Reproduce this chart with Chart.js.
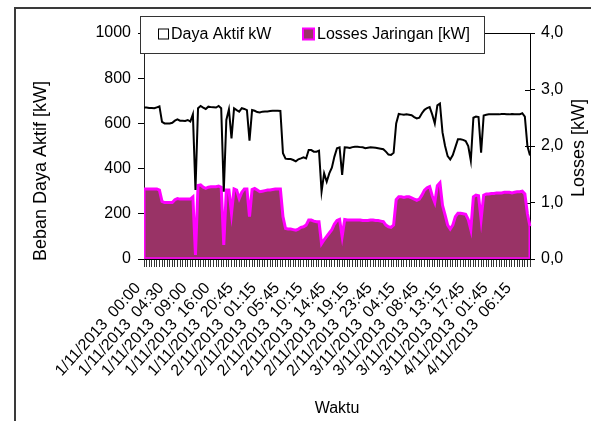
<!DOCTYPE html>
<html>
<head>
<meta charset="utf-8">
<script src="https://cdn.jsdelivr.net/npm/chart.js@4.4.1/dist/chart.umd.min.js"></script>
<style>
  html, body { margin: 0; padding: 0; background: #fff; }
  #wrap { position: relative; width: 591px; height: 421px; overflow: hidden; }
  #frame { position: absolute; left: 14px; top: 7px; width: 620px; height: 520px;
           border-left: 2px solid #3a3a3a; border-top: 2px solid #3a3a3a; }
  canvas { position: absolute; left: 0; top: 0; }
</style>
</head>
<body>
<div id="wrap"><div id="frame"></div><canvas id="c" width="591" height="421"></canvas></div>
<script>
// Time labels shown on the x axis (one every 9 samples)
const tickLabels = [
  '1/11/2013  00:00', '1/11/2013  04:30', '1/11/2013  09:00', '1/11/2013  16:00',
  '1/11/2013  20:45', '2/11/2013  01:15', '2/11/2013  05:45', '2/11/2013  10:15',
  '2/11/2013  14:45', '2/11/2013  19:15', '2/11/2013  23:45', '3/11/2013  04:15',
  '3/11/2013  08:45', '3/11/2013  13:15', '3/11/2013  17:45', '4/11/2013  01:45',
  '4/11/2013  06:15'
];
const samplesPerLabel = 9;

// Beban daya aktif [kW]
const dayaAktif = [
  670, 670, 668, 668, 667, 671, 675, 607, 600, 600,
  600, 603, 612, 618, 612, 612, 611, 615, 608, 640,
  305, 667, 677, 670, 664, 674, 672, 671, 670, 677,
  667, 298, 615, 662, 534, 667, 659, 652, 667, 664,
  659, 524, 659, 656, 650, 648, 652, 653, 653, 655,
  656, 656, 656, 655, 468, 444, 442, 442, 438, 432,
  441, 445, 450, 445, 482, 482, 475, 475, 479, 298,
  379, 342, 379, 404, 453, 490, 494, 372, 494, 493,
  491, 495, 497, 497, 495, 494, 490, 492, 494, 493,
  492, 490, 488, 486, 475, 462, 460, 470, 600, 642,
  640, 638, 640, 638, 636, 628, 622, 625, 645, 660,
  668, 672, 640, 600, 680, 688, 560, 500, 455, 440,
  460, 495, 530, 530, 527, 522, 500, 435, 625, 630,
  628, 470, 635, 638, 640, 640, 641, 641, 640, 642,
  642, 641, 640, 642, 641, 640, 640, 645, 630, 500,
  458
];

// Losses jaringan [kW]
const lossesJaringan = [
  1.24, 1.24, 1.24, 1.24, 1.24, 1.24, 1.22, 1.02, 1.00, 1.00,
  1.00, 1.00, 1.05, 1.07, 1.06, 1.06, 1.06, 1.06, 1.06, 1.10,
  0.07, 1.30, 1.31, 1.27, 1.25, 1.27, 1.28, 1.28, 1.28, 1.29,
  1.27, 0.25, 1.22, 1.22, 0.81, 1.24, 1.22, 1.07, 1.18, 1.24,
  1.24, 0.75, 1.23, 1.25, 1.22, 1.19, 1.20, 1.21, 1.22, 1.22,
  1.23, 1.24, 1.24, 1.24, 0.75, 0.54, 0.53, 0.53, 0.52, 0.51,
  0.53, 0.56, 0.57, 0.60, 0.69, 0.69, 0.67, 0.66, 0.66, 0.27,
  0.34, 0.40, 0.46, 0.52, 0.62, 0.68, 0.70, 0.40, 0.70, 0.69,
  0.69, 0.69, 0.69, 0.69, 0.69, 0.68, 0.68, 0.68, 0.69, 0.69,
  0.68, 0.68, 0.67, 0.66, 0.60, 0.57, 0.56, 0.60, 1.05, 1.10,
  1.10, 1.09, 1.10, 1.10, 1.08, 1.06, 1.04, 1.06, 1.13, 1.22,
  1.26, 1.28, 1.12, 1.00, 1.30, 1.35, 0.95, 0.78, 0.60, 0.53,
  0.60, 0.75, 0.81, 0.81, 0.80, 0.79, 0.70, 0.52, 1.10, 1.13,
  1.12, 0.70, 1.13, 1.15, 1.15, 1.16, 1.16, 1.17, 1.17, 1.17,
  1.18, 1.18, 1.18, 1.17, 1.18, 1.19, 1.19, 1.20, 1.15, 0.80,
  0.58
];

const seriesNames = ['Daya Aktif kW', 'Losses Jaringan [kW]'];
const axisTitles = { left: 'Beban Daya Aktif [kW]', right: 'Losses [kW]', bottom: 'Waktu' };

const categories = dayaAktif.map((_, i) =>
  i % samplesPerLabel === 0 ? (tickLabels[i / samplesPerLabel] || '') : '');

const FONT = "'Liberation Sans', Arial, sans-serif";
Chart.defaults.font.family = FONT;
Chart.defaults.font.size = 16;
Chart.defaults.color = '#000';

const AREA_FILL = '#993366';
const AREA_EDGE = '#ff00ff';

// Extra drawing: plot-area top edge, inner right ticks, area outline, titles and legend
const decor = {
  id: 'decor',
  beforeDatasetsDraw(chart) {
    const { ctx, chartArea: a, scales } = chart;
    ctx.save();
    ctx.strokeStyle = '#000';
    ctx.lineWidth = 1;
    ctx.beginPath();
    ctx.moveTo(a.left, Math.round(a.top) + 0.5);
    ctx.lineTo(a.right, Math.round(a.top) + 0.5);
    const r = scales.y1;
    r.ticks.forEach(t => {
      const y = Math.round(r.getPixelForValue(t.value)) + 0.5;
      ctx.moveTo(a.right - 5, y);
      ctx.lineTo(a.right, y);
    });
    ctx.stroke();
    ctx.restore();
  },
  afterDatasetDraw(chart, args) {
    if (args.index !== 1) return;
    const pts = args.meta.data;
    if (!pts.length) return;
    const base = chart.scales.y1.getPixelForValue(0) - 1;
    const first = pts[0], last = pts[pts.length - 1];
    const ctx = chart.ctx;
    ctx.save();
    ctx.strokeStyle = AREA_EDGE;
    ctx.lineWidth = 1.5;
    ctx.beginPath();
    ctx.moveTo(first.x + 0.75, first.y);
    ctx.lineTo(first.x + 0.75, base);
    ctx.lineTo(last.x - 0.75, base);
    ctx.lineTo(last.x - 0.75, last.y);
    ctx.stroke();
    ctx.restore();
  },
  afterDraw(chart) {
    const { ctx, chartArea: a } = chart;
    ctx.save();
    ctx.fillStyle = '#000';
    ctx.font = '18px ' + FONT;
    ctx.textAlign = 'center';
    ctx.textBaseline = 'middle';
    // left axis title
    ctx.save();
    ctx.translate(41, 171);
    ctx.rotate(-Math.PI / 2);
    ctx.fillText(axisTitles.left, 0, 0);
    ctx.restore();
    // right axis title
    ctx.save();
    ctx.translate(579, 148);
    ctx.rotate(-Math.PI / 2);
    ctx.fillText(axisTitles.right, 0, 0);
    ctx.restore();
    // bottom axis title
    ctx.font = '16px ' + FONT;
    ctx.fillText(axisTitles.bottom, (a.left + a.right) / 2, 409);

    // legend
    const lx = 140, ly = 16, lw = 344, lh = 37;
    ctx.fillStyle = '#fff';
    ctx.fillRect(lx, ly, lw, lh);
    ctx.strokeStyle = '#333';
    ctx.lineWidth = 1;
    ctx.strokeRect(lx + 0.5, ly + 0.5, lw, lh);
    const cy = ly + lh / 2 + 0.5;
    // line series key
    ctx.strokeStyle = '#000';
    ctx.strokeRect(158.5, cy - 6, 10, 10);
    // area series key
    ctx.fillStyle = AREA_FILL;
    ctx.fillRect(303, cy - 6.5, 11, 11);
    ctx.strokeStyle = AREA_EDGE;
    ctx.lineWidth = 2;
    ctx.strokeRect(303, cy - 6.5, 11, 11);
    ctx.fillStyle = '#000';
    ctx.textAlign = 'left';
    ctx.font = '16px ' + FONT;
    ctx.fillText(seriesNames[0], 171, cy);
    ctx.fillText(seriesNames[1], 317, cy);
    ctx.restore();
  }
};

new Chart(document.getElementById('c'), {
  type: 'line',
  data: {
    labels: categories,
    datasets: [
      {
        label: seriesNames[0],
        data: dayaAktif,
        yAxisID: 'y',
        borderColor: '#000',
        borderWidth: 2,
        pointRadius: 0,
        tension: 0,
        fill: false,
        order: 0
      },
      {
        label: seriesNames[1],
        data: lossesJaringan,
        yAxisID: 'y1',
        borderColor: AREA_EDGE,
        backgroundColor: AREA_FILL,
        borderWidth: 3,
        pointRadius: 0,
        tension: 0,
        fill: 'origin',
        order: 1
      }
    ]
  },
  options: {
    responsive: false,
    animation: false,
    devicePixelRatio: 1,
    layout: { padding: { top: 33, left: 0, right: 0, bottom: 0 } },
    plugins: { legend: { display: false }, tooltip: { enabled: false } },
    scales: {
      x: {
        type: 'category',
        offset: false,
        border: { color: '#000', width: 1 },
        grid: { drawOnChartArea: false, drawTicks: true, tickLength: 8, color: '#333' },
        ticks: {
          autoSkip: false,
          maxRotation: 48,
          minRotation: 48,
          padding: 12,
          labelOffset: -6,
          font: { size: 16 },
          callback: (v, i) => categories[i]
        },
        afterFit: s => { s.height = 162; }
      },
      y: {
        position: 'left',
        min: 0,
        max: 1000,
        border: { color: '#222', width: 1 },
        grid: { drawOnChartArea: false, drawTicks: true, tickLength: 6, color: '#000' },
        ticks: { stepSize: 200, padding: 7, font: { size: 16 }, callback: v => String(v) },
        afterFit: s => { s.width = 144; }
      },
      y1: {
        position: 'right',
        min: 0,
        max: 4,
        border: { color: '#000', width: 1 },
        grid: { drawOnChartArea: false, drawTicks: true, tickLength: 5, color: '#000' },
        ticks: {
          stepSize: 1,
          padding: 6,
          font: { size: 16 },
          callback: v => v.toFixed(1).replace('.', ',')
        },
        afterFit: s => { s.width = 61; }
      }
    }
  },
  plugins: [decor]
});
</script>
</body>
</html>
